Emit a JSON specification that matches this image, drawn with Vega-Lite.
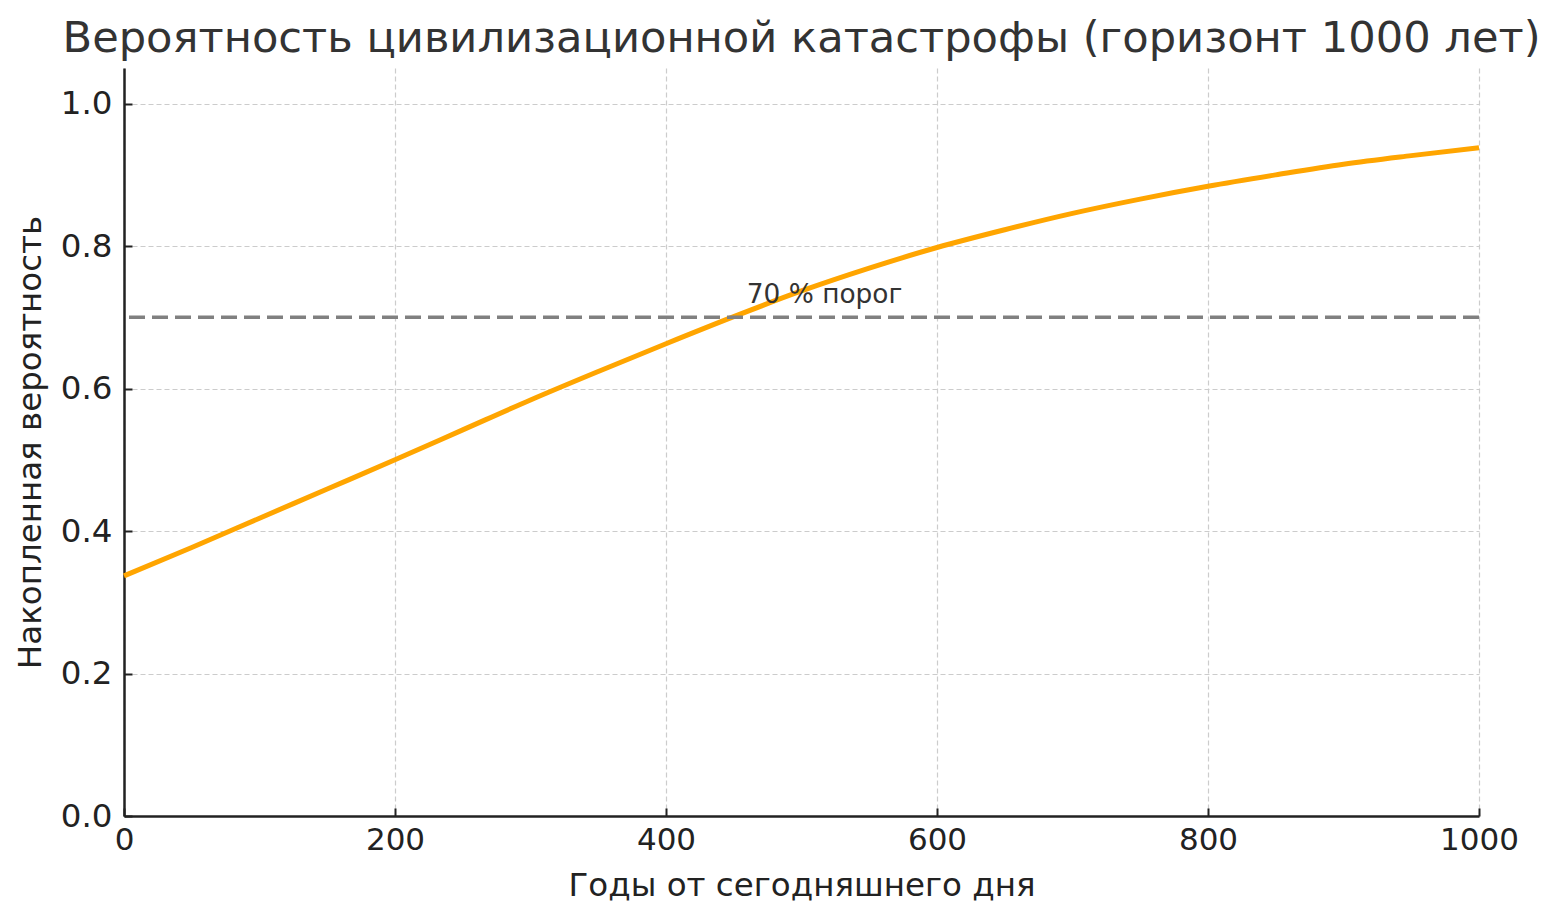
{
  "$schema": "https://vega.github.io/schema/vega-lite/v6.json",
  "width": 1355,
  "height": 748,
  "autosize": {"type": "none"},
  "padding": {"left": 124, "top": 68, "right": 81, "bottom": 104},
  "background": "white",
  "title": {
    "text": "Вероятность цивилизационной катастрофы (горизонт 1000 лет)",
    "fontSize": 43.2,
    "font": "DejaVu Sans",
    "fontWeight": "normal",
    "color": "#333333",
    "anchor": "middle",
    "offset": 7
  },
  "data": {
    "values": [
      {"year": 0, "p": 0.337},
      {"year": 50, "p": 0.377},
      {"year": 100, "p": 0.418},
      {"year": 150, "p": 0.459},
      {"year": 200, "p": 0.5},
      {"year": 250, "p": 0.542},
      {"year": 300, "p": 0.584},
      {"year": 350, "p": 0.624},
      {"year": 400, "p": 0.663},
      {"year": 450, "p": 0.701},
      {"year": 500, "p": 0.737},
      {"year": 550, "p": 0.769},
      {"year": 600, "p": 0.798},
      {"year": 650, "p": 0.823},
      {"year": 700, "p": 0.846},
      {"year": 750, "p": 0.866},
      {"year": 800, "p": 0.884},
      {"year": 850, "p": 0.9},
      {"year": 900, "p": 0.915},
      {"year": 950, "p": 0.927},
      {"year": 1000, "p": 0.938}
    ]
  },
  "encoding": {
    "x": {
      "field": "year",
      "type": "quantitative",
      "scale": {"domain": [0, 1000], "nice": false, "zero": false},
      "axis": {
        "title": "Годы от сегодняшнего дня",
        "values": [0, 200, 400, 600, 800, 1000],
        "format": "d",
        "labelFontSize": 31,
        "labelPadding": 17,
        "titlePadding": 14
      }
    },
    "y": {
      "field": "p",
      "type": "quantitative",
      "scale": {"domain": [0, 1.05], "nice": false},
      "axis": {
        "title": "Накопленная вероятность",
        "values": [0, 0.2, 0.4, 0.6, 0.8, 1.0],
        "format": ".1f",
        "labelFontSize": 32.5,
        "labelPadding": 20,
        "titlePadding": 13
      }
    }
  },
  "layer": [
    {
      "mark": {"type": "line", "color": "#FFA500", "strokeWidth": 5, "interpolate": "monotone"}
    },
    {
      "data": {"values": [{"p": 0.7}]},
      "mark": {"type": "rule", "color": "#808080", "strokeWidth": 3.5, "strokeDash": [16, 7]},
      "encoding": {"x": null, "y": {"field": "p", "type": "quantitative"}}
    },
    {
      "data": {"values": [{"year": 517, "p": 0.72, "label": "70 % порог"}]},
      "mark": {"type": "text", "font": "DejaVu Sans", "fontSize": 26.4, "color": "#333333", "align": "center", "baseline": "alphabetic"},
      "encoding": {"text": {"field": "label"}}
    }
  ],
  "config": {
    "view": {"stroke": "transparent"},
    "axis": {
      "labelFont": "DejaVu Sans",
      "labelColor": "#222222",
      "labelOverlap": false,
      "labelFlush": false,
      "titleFont": "DejaVu Sans",
      "titleFontSize": 32.5,
      "titleFontWeight": "normal",
      "titleColor": "#222222",
      "domainColor": "#222222",
      "domainWidth": 2.5,
      "tickColor": "#222222",
      "tickWidth": 2,
      "tickSize": -8,
      "grid": true,
      "gridColor": "#cccccc",
      "gridDash": [5, 3],
      "gridWidth": 1.2
    }
  }
}
